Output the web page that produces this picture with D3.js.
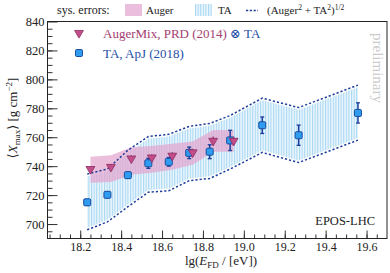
<!DOCTYPE html>
<html>
<head>
<meta charset="utf-8">
<script src="https://cdn.jsdelivr.net/npm/d3@7"></script>
<style>
  body { margin: 0; background: #fff; }
  svg { display: block; font-family: "Liberation Serif", "DejaVu Serif", serif; }
</style>
</head>
<body>
<div id="root"></div>
<script>
// AugerMix, PRD (2014) folded with TA
const augerX = [18.25, 18.35, 18.45, 18.55, 18.65, 18.75, 18.85, 18.95];
const augerY = [738, 739.5, 745.3, 746, 747.2, 749.5, 757.5, 757.5];
const augerErr = [2, 2, 2, 2, 2.5, 2.5, 3, 3];
const augerSysUp = [746.5, 747.5, 753, 754, 755.5, 757, 765, 765];
const augerSysLo = [728.5, 729, 734, 735.5, 737.5, 741, 750, 750];

// TA, ApJ (2018)
const taX = [18.234, 18.333, 18.433, 18.533, 18.633, 18.733, 18.833, 18.933, 19.09, 19.268, 19.558];
const taY = [715, 720.2, 733.8, 742, 743, 749.2, 750, 757.8, 768.3, 761.4, 776.8];
const taErr = [2, 2, 2, 3.5, 3, 4, 4.8, 7, 5.7, 7, 7];
const taSysUp = [733, 736.5, 749.5, 759, 760.5, 766, 768, 773.5, 785.5, 779, 794.5];
const taSysLo = [697.5, 703, 713.5, 723.5, 724.5, 731.5, 733, 739.5, 751, 744, 759.5];

// (Auger^2 + TA^2)^1/2
const combUp = [734.5, 738, 751, 760.5, 762, 767.5, 769.5, 775, 787, 780.5, 796];
const combLo = [696, 701.5, 712, 722, 723, 730, 731.5, 738, 749.5, 742.5, 758];

const xMajor = [18.2, 18.4, 18.6, 18.8, 19.0, 19.2, 19.4, 19.6];
const yMajor = [700, 720, 740, 760, 780, 800, 820, 840];

const width = 390, height = 273;
const pLeft = 47.5, pRight = 387, pTop = 21.5, pBottom = 238.5;

const x = d3.scaleLinear().domain([18.04, 19.70]).range([pLeft, pRight]);
const y = d3.scaleLinear().domain([690, 840]).range([pBottom, pTop]);

const svg = d3.select("#root").append("svg")
  .attr("width", width).attr("height", height);

const defs = svg.append("defs");
const pat = defs.append("pattern")
  .attr("id", "hatch").attr("patternUnits", "userSpaceOnUse")
  .attr("width", 2.6).attr("height", 4);
pat.append("rect").attr("width", 2.6).attr("height", 4).attr("fill", "#edf7fd");
pat.append("rect").attr("width", 1.1).attr("height", 4).attr("fill", "#a9d7f4");

const blue = "#1d3f9c";
const pinkText = "#a3416f";

// TA sys band
const taBand = d3.area()
  .x((d, i) => x(taX[i]))
  .y0((d, i) => y(taSysLo[i]))
  .y1((d, i) => y(taSysUp[i]));
svg.append("path").datum(taX).attr("d", taBand).attr("fill", "url(#hatch)");

// Auger sys band
const augBand = d3.area()
  .x((d, i) => x(augerX[i]))
  .y0((d, i) => y(augerSysLo[i]))
  .y1((d, i) => y(augerSysUp[i]));
svg.append("path").datum(augerX).attr("d", augBand)
  .attr("fill", "#e3a6cf").attr("opacity", 0.72);

// combined dashed lines
[combUp, combLo].forEach(arr => {
  const line = d3.line().x((d, i) => x(taX[i])).y(d => y(d));
  svg.append("path").datum(arr).attr("d", line)
    .attr("fill", "none").attr("stroke", blue)
    .attr("stroke-width", 1.5).attr("stroke-dasharray", "2.2,2");
});

// axes (ticks inward)
const gx = svg.append("g").attr("transform", `translate(0,${pBottom})`)
  .style("font-family", "Liberation Serif").style("font-size", "12px");
gx.call(d3.axisBottom(x).tickValues(d3.range(18.05, 19.7, 0.05)).tickSize(-4).tickFormat(""));
gx.call(g => g.select(".domain").remove());
const gx2 = svg.append("g").attr("transform", `translate(0,${pBottom})`)
  .style("font-family", "Liberation Serif").style("font-size", "12px");
gx2.call(d3.axisBottom(x).tickValues(xMajor).tickSize(-8).tickPadding(4).tickFormat(d3.format(".1f")));
gx2.call(g => g.select(".domain").remove());

const gy = svg.append("g").attr("transform", `translate(${pLeft},0)`)
  .style("font-family", "Liberation Serif").style("font-size", "12.5px");
gy.call(d3.axisLeft(y).tickValues(d3.range(695, 840, 5)).tickSize(-5).tickFormat(""));
gy.call(g => g.select(".domain").remove());
const gy2 = svg.append("g").attr("transform", `translate(${pLeft},0)`)
  .style("font-family", "Liberation Serif").style("font-size", "12.5px");
gy2.call(d3.axisLeft(y).tickValues(yMajor).tickSize(-10).tickPadding(3));
gy2.call(g => g.select(".domain").remove());
svg.selectAll(".tick line").attr("stroke", "#333");
svg.selectAll(".tick text").attr("fill", "#222");

// frame
svg.append("rect").attr("x", pLeft).attr("y", pTop)
  .attr("width", pRight - pLeft).attr("height", pBottom - pTop)
  .attr("fill", "none").attr("stroke", "#222").attr("stroke-width", 1);

// TA error bars and markers
const ta = svg.append("g");
taX.forEach((xv, i) => {
  const cx = x(xv), y1 = y(taY[i] + taErr[i]), y2 = y(taY[i] - taErr[i]);
  ta.append("line").attr("x1", cx).attr("x2", cx).attr("y1", y1).attr("y2", y2)
    .attr("stroke", blue).attr("stroke-width", 1.5);
  [y1, y2].forEach(yy => ta.append("line")
    .attr("x1", cx - 2).attr("x2", cx + 2).attr("y1", yy).attr("y2", yy)
    .attr("stroke", blue).attr("stroke-width", 1.3));
});
ta.selectAll("rect").data(taX).enter().append("rect")
  .attr("x", d => x(d) - 3.5)
  .attr("y", (d, i) => y(taY[i]) - 3.5)
  .attr("width", 7).attr("height", 7).attr("rx", 1.2)
  .attr("fill", "#2f9cf0").attr("stroke", "#1b4d9e").attr("stroke-width", 1);

// Auger markers
const tri = d3.symbol().type(d3.symbolTriangle).size(34);
const au = svg.append("g");
augerX.forEach((xv, i) => {
  au.append("line").attr("x1", x(xv)).attr("x2", x(xv))
    .attr("y1", y(augerY[i] + augerErr[i])).attr("y2", y(augerY[i] - augerErr[i]))
    .attr("stroke", "#8e2c60").attr("stroke-width", 1.2);
});
au.selectAll("path").data(augerX).enter().append("path")
  .attr("d", tri)
  .attr("transform", (d, i) => `translate(${x(d)},${y(augerY[i])}) rotate(180)`)
  .attr("fill", "#c14d8b").attr("stroke", "#8e2c60").attr("stroke-width", 0.8);

// legend top row
svg.append("text").attr("x", 57).attr("y", 14).attr("font-size", 12).attr("fill", "#222")
  .text("sys. errors:");
svg.append("rect").attr("x", 125).attr("y", 4).attr("width", 17).attr("height", 12)
  .attr("fill", "#ecbede");
svg.append("text").attr("x", 146).attr("y", 14).attr("font-size", 11).attr("fill", "#222")
  .text("Auger");
svg.append("rect").attr("x", 195).attr("y", 4).attr("width", 17).attr("height", 12)
  .attr("fill", "url(#hatch)");
svg.append("text").attr("x", 218).attr("y", 14).attr("font-size", 11).attr("fill", "#222")
  .text("TA");
svg.append("line").attr("x1", 246).attr("x2", 258).attr("y1", 10.5).attr("y2", 10.5)
  .attr("stroke", blue).attr("stroke-width", 1.5).attr("stroke-dasharray", "2.2,1.6");
const f = svg.append("text").attr("x", 267).attr("y", 14).attr("font-size", 11).attr("fill", "#222");
f.append("tspan").text("(Auger");
f.append("tspan").attr("dy", -4).attr("font-size", 7.5).text("2");
f.append("tspan").attr("dy", 4).text(" + TA");
f.append("tspan").attr("dy", -4).attr("font-size", 7.5).text("2");
f.append("tspan").attr("dy", 4).text(")");
f.append("tspan").attr("dy", -4).attr("font-size", 7.5).text("1/2");

// legend in plot
svg.append("path").attr("d", tri)
  .attr("transform", "translate(79,33) rotate(180)")
  .attr("fill", "#c14d8b").attr("stroke", "#8e2c60").attr("stroke-width", 0.8);
const l1 = svg.append("text").attr("x", 103).attr("y", 38).attr("font-size", 13);
l1.append("tspan").attr("fill", pinkText).text("AugerMix, PRD (2014) ");
l1.append("tspan").attr("fill", "#1f4fa8").text("⊗ TA");
svg.append("rect").attr("x", 75.5).attr("y", 49.5).attr("width", 7).attr("height", 7).attr("rx", 1.2)
  .attr("fill", "#2f9cf0").attr("stroke", "#1b4d9e");
svg.append("text").attr("x", 103).attr("y", 58).attr("font-size", 13).attr("fill", "#1f4fa8")
  .text("TA, ApJ (2018)");

// preliminary
svg.append("text").attr("transform", "translate(373,33) rotate(90)")
  .attr("font-size", 15).attr("fill", "#cbcbcb").text("preliminary");

// EPOS-LHC
svg.append("text").attr("x", 375).attr("y", 225).attr("text-anchor", "end")
  .attr("font-size", 12.5).attr("fill", "#222").text("EPOS-LHC");

// axis titles
const yl = svg.append("text").attr("transform", "translate(17,118) rotate(-90)")
  .attr("text-anchor", "middle").attr("font-size", 13).attr("fill", "#222");
yl.append("tspan").text("⟨");
yl.append("tspan").attr("font-style", "italic").text("X");
yl.append("tspan").attr("dy", 3).attr("font-size", 9).text("max");
yl.append("tspan").attr("dy", -3).text("⟩ [g cm");
yl.append("tspan").attr("dy", -5).attr("font-size", 9).text("−2");
yl.append("tspan").attr("dy", 5).text("]");

const xl = svg.append("text").attr("x", 221).attr("y", 265)
  .attr("text-anchor", "middle").attr("font-size", 13).attr("fill", "#222");
xl.append("tspan").text("lg(");
xl.append("tspan").attr("font-style", "italic").text("E");
xl.append("tspan").attr("dy", 3).attr("font-size", 9).text("FD");
xl.append("tspan").attr("dy", -3).text(" / [eV])");
</script>
</body>
</html>
